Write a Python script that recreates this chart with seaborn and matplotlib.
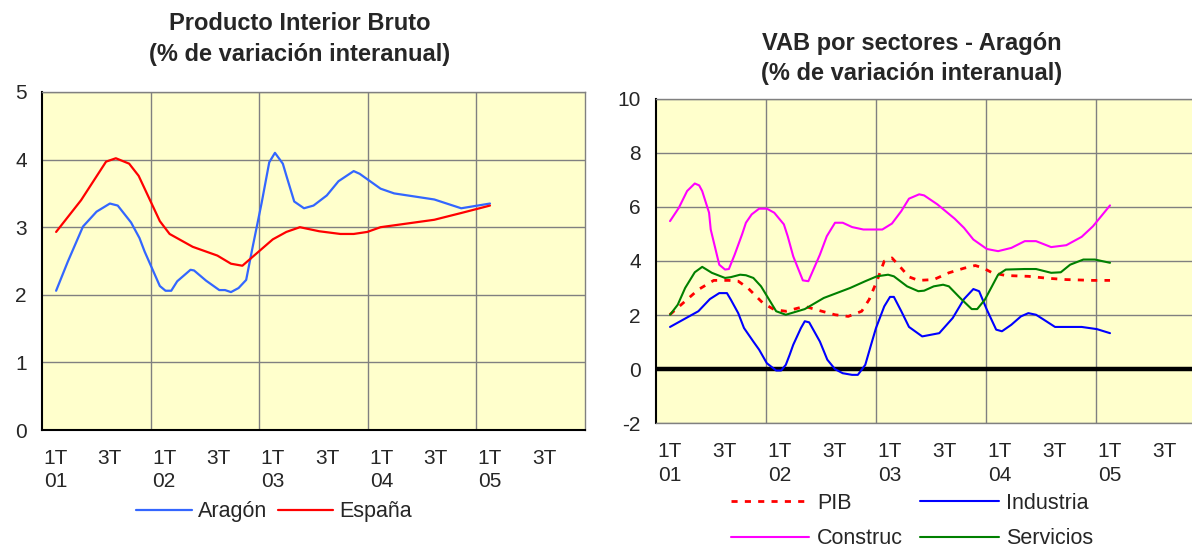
import matplotlib
matplotlib.use("Agg")
import matplotlib.pyplot as plt
import seaborn as sns
import pandas as pd

# ---------------- data (x in quarters, 0 = 1T 2001) ----------------
x_aragon = [0.02, 0.45, 1.01, 1.51, 2.0, 2.29, 2.78, 3.09, 3.28, 3.84, 4.05, 4.26, 4.48, 4.97, 5.1,
            5.54, 6.03, 6.24, 6.46, 6.74, 7.02, 7.24, 7.59, 7.87, 8.08, 8.37, 8.51, 8.79, 9.15, 9.5,
            9.99, 10.42, 10.98, 11.2, 11.97, 12.47, 13.95, 14.94, 16.0]
y_aragon = [2.06, 2.49, 3.01, 3.23, 3.35, 3.32, 3.07, 2.84, 2.64, 2.13, 2.06, 2.06, 2.20, 2.37, 2.36,
            2.21, 2.07, 2.07, 2.04, 2.10, 2.22, 2.67, 3.36, 3.96, 4.10, 3.94, 3.75, 3.38, 3.28, 3.32,
            3.47, 3.68, 3.83, 3.79, 3.57, 3.50, 3.41, 3.28, 3.35]

x_espana = [0.02, 0.94, 1.86, 2.22, 2.71, 3.06, 3.84, 4.2, 5.05, 5.96, 6.46, 6.88, 8.0, 8.5, 9.0,
            9.71, 10.49, 10.98, 11.48, 11.97, 13.95, 14.94, 16.0]
y_espana = [2.93, 3.40, 3.97, 4.02, 3.94, 3.76, 3.09, 2.90, 2.71, 2.58, 2.46, 2.43, 2.82, 2.93, 3.00,
            2.94, 2.90, 2.90, 2.93, 3.00, 3.11, 3.21, 3.32]

x_pib = [0.0, 1.04, 1.6, 2.15, 2.49, 2.84, 3.39, 3.8, 4.22, 4.91, 5.46, 6.01, 6.49, 6.98, 7.25,
         7.53, 7.8, 8.08, 8.36, 8.7, 9.04, 9.6, 10.15, 10.7, 11.11, 11.39, 11.73, 12.22, 13.04,
         13.73, 14.42, 15.39, 16.01]
y_pib = [2.01, 2.94, 3.28, 3.28, 3.25, 3.00, 2.44, 2.20, 2.14, 2.32, 2.16, 2.01, 1.95, 2.14, 2.57,
         3.25, 3.99, 4.11, 3.80, 3.41, 3.28, 3.31, 3.56, 3.73, 3.83, 3.74, 3.56, 3.46, 3.43,
         3.36, 3.31, 3.28, 3.28]

x_industria = [0.01, 1.04, 1.46, 1.8, 2.08, 2.22, 2.49, 2.7, 3.04, 3.25, 3.53, 3.87, 4.05, 4.22,
               4.36, 4.49, 4.77, 4.91, 5.07, 5.46, 5.73, 6.01, 6.29, 6.63, 6.84, 7.11, 7.32, 7.5,
               7.8, 8.01, 8.15, 8.42, 8.7, 9.18, 9.8, 10.29, 10.7, 11.04, 11.25, 11.53, 11.87,
               12.08, 12.42, 12.77, 13.04, 13.32, 13.6, 14.01, 14.98, 15.53, 16.01]
y_industria = [1.56, 2.14, 2.59, 2.81, 2.81, 2.57, 2.07, 1.52, 1.02, 0.72, 0.22, -0.05, -0.05, 0.16,
               0.53, 0.90, 1.52, 1.77, 1.73, 1.02, 0.35, 0.00, -0.15, -0.21, -0.21, 0.16, 0.90, 1.52,
               2.32, 2.67, 2.67, 2.14, 1.56, 1.21, 1.33, 1.89, 2.59, 2.96, 2.88, 2.20, 1.46,
               1.40, 1.64, 1.95, 2.07, 2.01, 1.83, 1.56, 1.56, 1.48, 1.33]

x_construc = [0.01, 0.33, 0.63, 0.91, 1.07, 1.18, 1.43, 1.49, 1.8, 2.01, 2.15, 2.36, 2.63, 2.77,
              2.98, 3.25, 3.53, 3.8, 4.15, 4.29, 4.49, 4.84, 5.04, 5.46, 5.71, 6.01, 6.29, 6.63,
              7.04, 7.73, 8.08, 8.42, 8.7, 9.07, 9.25, 9.73, 10.36, 10.7, 11.04, 11.53, 11.94,
              12.42, 12.91, 13.32, 13.87, 14.42, 14.98, 15.39, 16.01]
y_construc = [5.47, 5.96, 6.58, 6.86, 6.79, 6.58, 5.78, 5.16, 3.86, 3.68, 3.70, 4.23, 4.98, 5.41,
              5.72, 5.93, 5.93, 5.78, 5.35, 4.91, 4.17, 3.28, 3.25, 4.23, 4.91, 5.41, 5.41, 5.25,
              5.16, 5.16, 5.38, 5.84, 6.30, 6.46, 6.42, 6.09, 5.56, 5.22, 4.79, 4.44, 4.36,
              4.48, 4.73, 4.73, 4.51, 4.58, 4.89, 5.28, 6.05]

x_servicios = [0.01, 0.29, 0.56, 0.91, 1.18, 1.53, 2.01, 2.22, 2.56, 2.77, 3.04, 3.32, 3.87, 4.22,
               4.91, 5.6, 6.56, 7.11, 7.53, 7.94, 8.15, 8.63, 9.04, 9.25, 9.6, 9.94, 10.15, 10.56,
               10.98, 11.18, 11.46, 11.94, 12.22, 12.91, 13.32, 13.87, 14.22, 14.56, 15.04, 15.46,
               16.01]
y_servicios = [2.01, 2.38, 3.00, 3.58, 3.78, 3.56, 3.37, 3.40, 3.49, 3.47, 3.37, 3.06, 2.14, 2.01,
               2.22, 2.63, 3.00, 3.25, 3.43, 3.49, 3.43, 3.06, 2.88, 2.90, 3.06, 3.12, 3.06, 2.63,
               2.22, 2.22, 2.57, 3.49, 3.68, 3.70, 3.70, 3.56, 3.58, 3.86, 4.05, 4.05,
               3.93]

tick_pos = [0, 2, 4, 6, 8, 10, 12, 14, 16, 18]
tick_labels = ["1T\n01", "3T", "1T\n02", "3T", "1T\n03", "3T", "1T\n04", "3T", "1T\n05", "3T"]
year_bounds = [3.5, 7.5, 11.5, 15.5]

title_left = "Producto Interior Bruto\n(% de variación interanual)"
title_right = "VAB por sectores - Aragón\n(% de variación interanual)"

# ---------------- style ----------------
sns.set_style("white")
plt.rcParams["font.family"] = ["Liberation Sans", "DejaVu Sans"]
BG = "#FFFFCC"
GRID = "#808080"
FS = 15
LFS = 15.5
TFS = 17

fig = plt.figure(figsize=(11.92, 5.51), dpi=100)
W, H = 1192, 551
def axbox(x0, y0, x1, y1):
    return [x0 / W, 1 - y1 / H, (x1 - x0) / W, (y1 - y0) / H]

axL = fig.add_axes(axbox(42, 92, 585, 430))
axR = fig.add_axes(axbox(656, 98.5, 1206, 423.3))

def style(ax, ylim, yticks):
    ax.set_facecolor(BG)
    ax.set_xlim(-0.5, 19.5)
    ax.set_ylim(*ylim)
    ax.set_yticks(yticks)
    ax.set_yticklabels([str(t) for t in yticks])
    ax.set_xticks(tick_pos)
    ax.set_xticklabels(tick_labels, linespacing=1.3)
    ax.set_xticks(year_bounds, minor=True)
    ax.grid(False)
    ax.grid(axis="y", which="major", color=GRID, lw=1.0)
    ax.grid(axis="x", which="minor", color=GRID, lw=1.0)
    ax.set_axisbelow(True)
    ax.tick_params(axis="x", which="both", length=0, pad=13.5, labelsize=FS)
    ax.tick_params(axis="y", length=6, width=1, color="black", pad=5, labelsize=FS, direction="out")
    for s in ["top", "right"]:
        ax.spines[s].set_color(GRID)
        ax.spines[s].set_linewidth(1.0)
    ax.spines["left"].set_color("black")
    ax.spines["left"].set_linewidth(1.5)
    ax.set_xlabel("")
    ax.set_ylabel("")

# ---------------- left chart ----------------
dfA = pd.DataFrame({"x": x_aragon, "y": y_aragon})
dfE = pd.DataFrame({"x": x_espana, "y": y_espana})
sns.lineplot(data=dfA, x="x", y="y", ax=axL, color="#3366FF", lw=1.6, sort=False, label="Aragón")
sns.lineplot(data=dfE, x="x", y="y", ax=axL, color="#FF0000", lw=1.6, sort=False, label="España")
style(axL, (0, 5), [0, 1, 2, 3, 4, 5])
axL.spines["bottom"].set_color("black")
axL.spines["bottom"].set_linewidth(1.5)
hL, lL = axL.get_legend_handles_labels()
axL.get_legend().remove()
fig.legend(hL, lL, loc="center", bbox_to_anchor=(274 / W, 1 - 512 / H), ncol=2, frameon=False,
           fontsize=LFS, handlelength=2.58, handletextpad=0.28, columnspacing=0.5)

# ---------------- right chart ----------------
dfP = pd.DataFrame({"x": x_pib, "y": y_pib})
dfI = pd.DataFrame({"x": x_industria, "y": y_industria})
dfC = pd.DataFrame({"x": x_construc, "y": y_construc})
dfS = pd.DataFrame({"x": x_servicios, "y": y_servicios})
sns.lineplot(data=dfP, x="x", y="y", ax=axR, color="#FF0000", lw=2.0, sort=False, label="PIB",
             dashes=False)
axR.lines[-1].set_dashes((2.2, 2.6))
sns.lineplot(data=dfC, x="x", y="y", ax=axR, color="#FF00FF", lw=1.5, sort=False, label="Construc")
sns.lineplot(data=dfI, x="x", y="y", ax=axR, color="#0000FF", lw=1.5, sort=False, label="Industria")
sns.lineplot(data=dfS, x="x", y="y", ax=axR, color="#008000", lw=1.5, sort=False, label="Servicios")
style(axR, (-2, 10), [-2, 0, 2, 4, 6, 8, 10])
axR.spines["bottom"].set_color(GRID)
axR.spines["bottom"].set_linewidth(1.0)
axR.axhline(0, color="black", lw=3.2, zorder=1.5)
hR, lR = axR.get_legend_handles_labels()
axR.get_legend().remove()
fig.legend(hR, lR, loc="center", bbox_to_anchor=(912 / W, 1 - 521 / H), ncol=2, frameon=False,
           fontsize=LFS, handlelength=3.65, handletextpad=0.35, columnspacing=0.8, labelspacing=0.66,
           borderpad=0.1)

# ---------------- titles ----------------
fig.text(300 / W, 1 - 39 / H, title_left, ha="center", va="center", fontsize=TFS,
         fontweight="bold", linespacing=1.42)
fig.text(912 / W, 1 - 58.5 / H, title_right, ha="center", va="center", fontsize=TFS,
         fontweight="bold", linespacing=1.42)

fig.savefig("out.png", dpi=100, facecolor="white")
